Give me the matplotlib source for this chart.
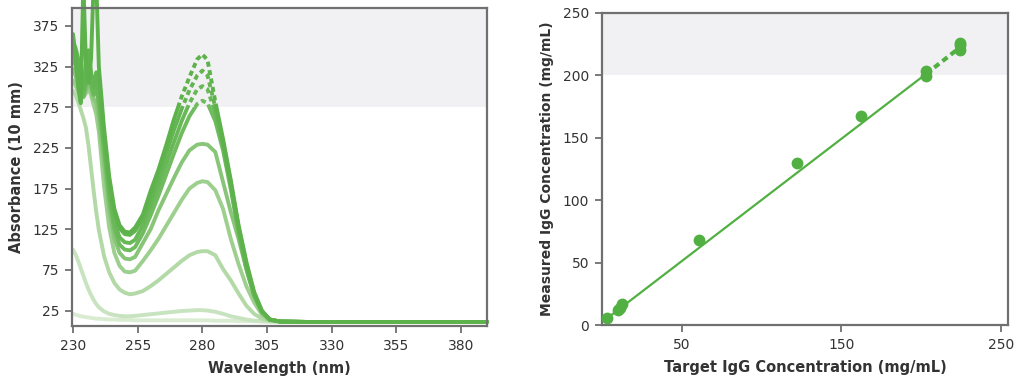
import matplotlib
matplotlib.use("Agg")
import matplotlib.pyplot as plt
from matplotlib.patches import Rectangle

plt.rcParams['font.family'] = 'DejaVu Sans'

# ---- left panel: absorbance spectra ----
wavelength = [230, 231, 232, 233, 234, 235, 236, 237, 238, 239, 240, 242, 244, 246, 248,
              250, 252, 254, 257, 260, 263, 266, 269, 272, 275, 278, 280, 282, 285, 288,
              291, 294, 297, 300, 303, 306, 310, 320, 390]

abs_1 = [365, 340, 300, 280, 430, 330, 305, 335, 430, 430, 325, 250, 190, 150, 130,
         122, 121, 127, 143, 172, 198, 228, 260, 288, 312, 334, 340, 333, 282, 236,
         185, 130, 85, 48, 25, 14, 11.5, 11, 11]
abs_2 = [355, 348, 335, 312, 298, 330, 345, 318, 300, 318, 300, 240, 182, 145, 126,
         119, 118, 123, 138, 163, 190, 218, 247, 273, 296, 314, 320, 314, 275, 232,
         182, 127, 82, 46, 24, 14, 11.5, 11, 11]
abs_3 = [345, 336, 318, 298, 290, 312, 330, 305, 292, 305, 288, 230, 172, 134, 115,
         109, 108, 112, 130, 153, 178, 205, 232, 258, 280, 297, 301, 297, 268, 228,
         178, 124, 79, 45, 24, 14, 11.5, 11, 11]
abs_4 = [335, 326, 308, 292, 288, 302, 320, 302, 290, 298, 278, 222, 164, 125, 106,
         100, 99, 103, 120, 142, 166, 192, 218, 243, 264, 279, 283, 280, 258, 222,
         174, 120, 76, 43, 23, 14, 11.5, 11, 11]
abs_5 = [322, 314, 302, 292, 288, 296, 308, 296, 285, 282, 262, 205, 150, 114, 96,
         89, 88, 91, 108, 125, 148, 168, 188, 207, 222, 229, 230, 229, 220, 183,
         146, 113, 76, 44, 23, 14, 11.5, 11, 11]
abs_6 = [308, 302, 294, 288, 287, 292, 298, 290, 278, 266, 245, 178, 127, 96, 80,
         73, 72, 74, 86, 99, 113, 129, 145, 161, 175, 182, 184, 183, 173, 150,
         113, 82, 55, 35, 20, 13, 11.5, 11, 11]
abs_7 = [295, 290, 282, 272, 262, 250, 228, 200, 172, 146, 124, 92, 72, 59, 51,
         47, 45, 46, 49, 55, 62, 70, 78, 86, 93, 97, 98, 98, 93, 76,
         62, 46, 31, 21, 15, 12.5, 11.5, 11, 11]
abs_8 = [100, 94, 86, 77, 68, 59, 51, 44, 38, 33, 29, 24, 21, 19.5, 18.5,
         18, 18, 18.5, 19.5, 20.5, 21.5, 22.5, 23.5, 24.5, 25, 25.5, 25.5, 25, 23.5, 21,
         18, 16, 14, 12.5, 12, 11.5, 11, 11, 11]
abs_9 = [21, 20, 19, 18, 17.5, 17, 16.5, 16, 15.5, 15, 15, 14.5, 14, 14, 13.5,
         13.5, 13.5, 13, 13, 13, 13, 13, 13, 13, 13, 13, 13, 13, 12.5, 12.5,
         12.5, 12, 12, 12, 11.5, 11.5, 11, 11, 11]

spectra = [abs_1, abs_2, abs_3, abs_4, abs_5, abs_6, abs_7, abs_8, abs_9]
spectra_colors = ['#5db24b', '#62b550', '#68b857', '#6fbb5e', '#88c579',
                  '#9dcf8f', '#b2d9a6', '#c8e3bf', '#d9ecd2']
saturation = 275

# ---- right panel: measured vs target ----
target = [3.5, 10, 11.5, 13, 61, 122, 162, 203, 203, 224, 224, 224]
measured = [5.5, 12, 14, 16.5, 68, 130, 167, 199, 203, 220, 224, 226]
fit_x = [2.5, 203]
fit_y = [4.5, 201]
ext_x = [203, 224]
ext_y = [201, 222]
limit_right = 200

green = '#52b043'
shade = '#f1f1f4'
spine_col = '#707070'
text_col = '#333333'

fig = plt.figure(figsize=(10.24, 3.86), dpi=100)
ax1 = fig.add_axes([0.0700, 0.1554, 0.4056, 0.8238])
ax2 = fig.add_axes([0.5876, 0.158, 0.3971, 0.809])

# left
ax1.axhspan(saturation, 500, color=shade, zorder=0, lw=0)
for vals, col in reversed(list(zip(spectra, spectra_colors))):
    a, = ax1.plot(wavelength, vals, color=col, lw=2.8, solid_capstyle='round',
                  solid_joinstyle='round')
    a.set_clip_path(Rectangle((220, -50), 40, 600, transform=ax1.transData))
    b, = ax1.plot(wavelength, vals, color=col, lw=2.8, solid_capstyle='round',
                  solid_joinstyle='round')
    b.set_clip_path(Rectangle((260, -50), 200, saturation + 50, transform=ax1.transData))
    c, = ax1.plot(wavelength, vals, color=col, lw=2.8, ls=(0, (1.3, 0.9)))
    c.set_clip_path(Rectangle((260, saturation), 200, 300, transform=ax1.transData))

ax1.set_xlim(229.5, 390)
ax1.set_ylim(6, 397)
ax1.set_xticks(range(230, 381, 25))
ax1.set_yticks(range(25, 376, 50))
ax1.set_xlabel('Wavelength (nm)', fontsize=10.5, fontweight='bold', color=text_col, labelpad=6)
ax1.set_ylabel('Absorbance (10 mm)', fontsize=10.5, fontweight='bold', color=text_col, labelpad=6)

# right
ax2.axhspan(limit_right, 300, color=shade, zorder=0, lw=0)
ax2.plot(fit_x, fit_y, color=green, lw=1.6, zorder=2)
ax2.plot(ext_x, ext_y, color=green, lw=3, ls=(0, (1.5, 1.0)), zorder=2)
ax2.plot(target, measured, 'o', color=green, ms=8.5, mec='none', zorder=3, clip_on=False)
ax2.set_xlim(0, 254.5)
ax2.set_ylim(0, 250)
ax2.set_xticks([50, 150, 250])
ax2.set_yticks(range(0, 251, 50))
ax2.set_xlabel('Target IgG Concentration (mg/mL)', fontsize=10.5, fontweight='bold',
               color=text_col, labelpad=6)
ax2.set_ylabel('Measured IgG Concentration (mg/mL)', fontsize=10, fontweight='bold',
               color=text_col, labelpad=6)

for ax in (ax1, ax2):
    for s in ax.spines.values():
        s.set_color(spine_col)
        s.set_linewidth(1.6)
    ax.tick_params(direction='out', length=5, width=1.3, color=spine_col,
                   labelcolor=text_col, labelsize=10, pad=4)

fig.savefig('out.png', dpi=100)
